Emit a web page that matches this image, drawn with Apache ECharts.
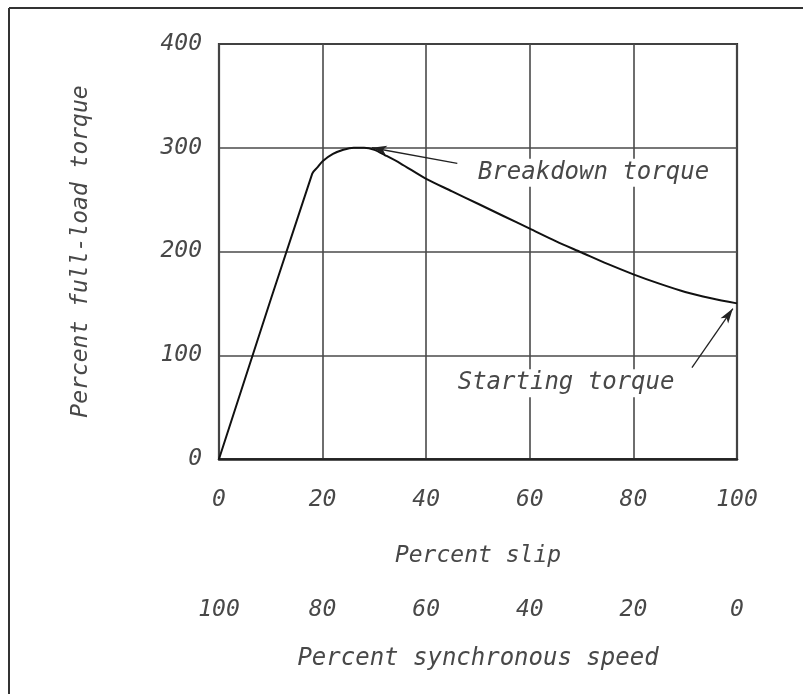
<!DOCTYPE html>
<html>
<head>
<meta charset="utf-8">
<script src="https://cdn.jsdelivr.net/npm/echarts@6/dist/echarts.min.js"></script>
<style>html,body{margin:0;padding:0;background:#fff}#c{width:803px;height:694px}</style>
</head>
<body>
<div id="c"></div>
<script>
// Data
const slipPct = [0, 18, 19, 20, 22, 24, 26, 28, 30, 32, 35, 40, 45, 50, 55, 60, 65, 70, 75, 80, 85, 90, 95, 100];
const torquePct = [0, 275, 281, 287, 294, 298, 300, 300, 298, 293, 285, 270, 258, 246, 234, 222, 210, 199, 188, 178, 169, 161, 155, 150];
const slipTicks = [0, 20, 40, 60, 80, 100];
const speedTicks = [100, 80, 60, 40, 20, 0];
const torqueTicks = [0, 100, 200, 300, 400];
const breakdownArrow = [[46, 285], [29.5, 300]];
const startingArrow = [[91.3, 88], [99.2, 145]];
const breakdownLabel = [72.3, 276];
const startingLabel = [67.0, 73];

const FONT = '"DejaVu Sans Mono", monospace';
const TXT = { fontFamily: FONT, fontStyle: 'italic', fontSize: 23, color: '#484848' };

const chart = echarts.init(document.getElementById('c'));
chart.setOption({
  animation: false,
  backgroundColor: '#fff',
  grid: { left: 219, right: 66, top: 44, bottom: 235, show: true, borderColor: '#2a2a2a', borderWidth: 2.2 },
  xAxis: [
    {
      type: 'value', min: 0, max: 100, interval: 20, position: 'bottom',
      name: 'Percent slip', nameLocation: 'middle', nameGap: 86, nameTextStyle: TXT,
      axisLine: { show: true, lineStyle: { color: '#222', width: 2.5 } },
      axisTick: { show: false },
      axisLabel: Object.assign({ margin: 30, formatter: v => slipTicks.includes(v) ? String(v) : '' }, TXT),
      splitLine: { show: true, lineStyle: { color: '#4a4a4a', width: 1.6 } }
    },
    {
      type: 'value', min: 0, max: 100, interval: 20, inverse: true, position: 'bottom', offset: 110,
      name: 'Percent synchronous speed', nameLocation: 'middle', nameGap: 78,
      nameTextStyle: Object.assign({}, TXT, { fontSize: 24 }),
      axisLine: { show: false }, axisTick: { show: false },
      axisLabel: Object.assign({ margin: 30, formatter: v => speedTicks.includes(v) ? String(v) : '' }, TXT),
      splitLine: { show: false }
    }
  ],
  yAxis: {
    type: 'value', min: 0, max: 400, interval: 100,
    name: 'Percent full-load torque', nameLocation: 'middle', nameGap: 126, nameTextStyle: TXT,
    axisLine: { show: true, lineStyle: { color: '#444', width: 2 } },
    axisTick: { show: false },
    axisLabel: Object.assign({ margin: 17, formatter: v => torqueTicks.includes(v) ? String(v) : '' }, TXT),
    splitLine: { show: true, lineStyle: { color: '#4a4a4a', width: 1.6 } }
  },
  graphic: [
    { type: 'line', shape: { x1: 9, y1: 8, x2: 803, y2: 8 }, style: { stroke: '#333', lineWidth: 2 } },
    { type: 'line', shape: { x1: 9, y1: 8, x2: 9, y2: 694 }, style: { stroke: '#333', lineWidth: 2 } }
  ],
  series: [
    {
      type: 'line', xAxisIndex: 0, yAxisIndex: 0,
      data: slipPct.map((s, i) => [s, torquePct[i]]),
      showSymbol: false, smooth: 0.3,
      lineStyle: { color: '#111', width: 2 },
      markLine: {
        silent: true, symbol: ['none', 'arrow'], symbolSize: [7, 15],
        label: { show: false },
        lineStyle: { color: '#222', width: 1.3, type: 'solid' },
        data: [
          [{ coord: breakdownArrow[0] }, { coord: breakdownArrow[1] }],
          [{ coord: startingArrow[0] }, { coord: startingArrow[1] }]
        ]
      },
      markPoint: {
        silent: true, symbol: 'circle', symbolSize: 0,
        label: Object.assign({ show: true, position: 'inside', backgroundColor: '#fff', padding: [2, 3] }, TXT, { fontSize: 24 }),
        data: [
          { coord: breakdownLabel, value: 'Breakdown torque', label: { formatter: 'Breakdown torque' } },
          { coord: startingLabel, value: 'Starting torque', label: { formatter: 'Starting torque' } }
        ]
      }
    }
  ]
});
</script>
</body>
</html>
